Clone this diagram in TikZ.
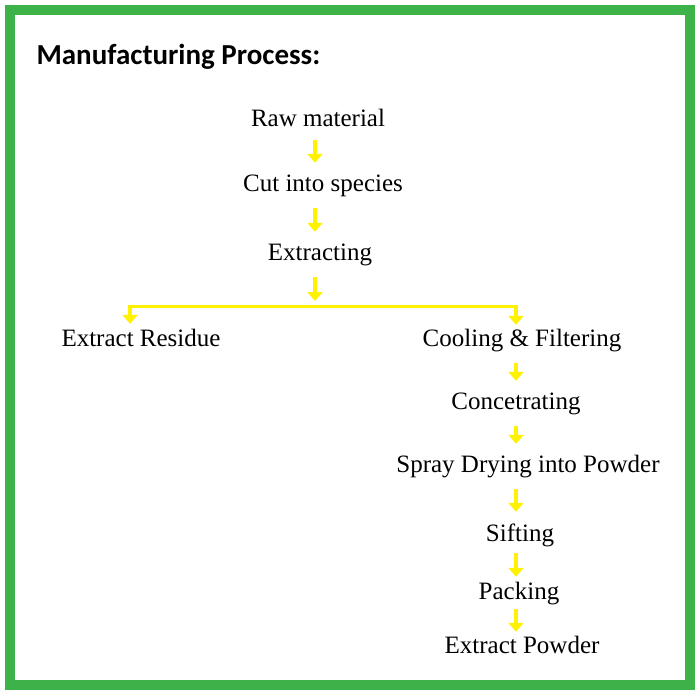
\documentclass[tikz,border=0pt]{standalone}
\usepackage{fontspec}
\setmainfont{Liberation Serif}
\newfontfamily\titlefont{Carlito}
\usetikzlibrary{arrows.meta}
\definecolor{frame}{RGB}{60,178,72}
\definecolor{arrowyellow}{RGB}{255,242,0}
\tikzset{
  stage/.style={font=\fontsize{25}{28}\selectfont, minimum height=26pt, inner sep=0pt},
  flow/.style={arrowyellow, line width=4.5pt, -{Triangle[width=15pt,length=9pt]}, shorten <=9pt, shorten >=10pt},
  branch/.style={arrowyellow, line width=3pt}
}
\begin{document}
\begin{tikzpicture}[x=1pt,y=-1pt]

    % Frame
    \useasboundingbox (0,0) rectangle (700,695);
    \draw[frame, line width=10pt] (10,10) rectangle (690,685);

    % Title
    \node[anchor=west, font=\titlefont\bfseries\fontsize{29}{32}\selectfont] (title) at (33,57) {Manufacturing Process:};

    % Steps
    \node[stage] (raw) at (318,118) {Raw material};
    \node[stage] (cut) at (323,186) {Cut into species};
    \node[stage] (extract) at (320,255) {Extracting};
    \node[stage] (residue) at (141,338) {Extract Residue};
    \node[stage] (cooling) at (522,341) {Cooling \& Filtering};
    \node[stage] (concentrate) at (516,404) {Concetrating};
    \node[stage] (spray) at (528,467) {Spray Drying into Powder};
    \node[stage] (sifting) at (520,535) {Sifting};
    \node[stage] (packing) at (519,594) {Packing};
    \node[stage] (powder) at (522,645) {Extract Powder};

    % Arrow columns and branch points
    \coordinate (lx) at (315,0);
    \coordinate (rx) at (516,0);
    \coordinate (split) at (315,306);
    \coordinate (leftend) at (130,306);
    \coordinate (rightend) at (516,306);

    % Arrows
    \draw[flow] (raw.south -| lx) -- (cut.north -| lx);
    \draw[flow] (cut.south -| lx) -- (extract.north -| lx);
    \draw[flow, shorten >=5pt] (extract.south -| lx) -- (split);
    \draw[branch] (leftend) -- (rightend);
    \draw[flow, shorten <=-1pt, shorten >=1pt] (leftend) -- (leftend |- residue.north);
    \draw[flow, shorten <=-1pt, shorten >=3pt] (rightend) -- (rightend |- cooling.north);
    \draw[flow] (cooling.south -| rx) -- (concentrate.north -| rx);
    \draw[flow] (concentrate.south -| rx) -- (spray.north -| rx);
    \draw[flow] (spray.south -| rx) -- (sifting.north -| rx);
    \draw[flow, shorten <=5pt, shorten >=4pt] (sifting.south -| rx) -- (packing.north -| rx);
    \draw[flow, shorten <=2pt, shorten >=0pt] (packing.south -| rx) -- (powder.north -| rx);

\end{tikzpicture}
\end{document}
